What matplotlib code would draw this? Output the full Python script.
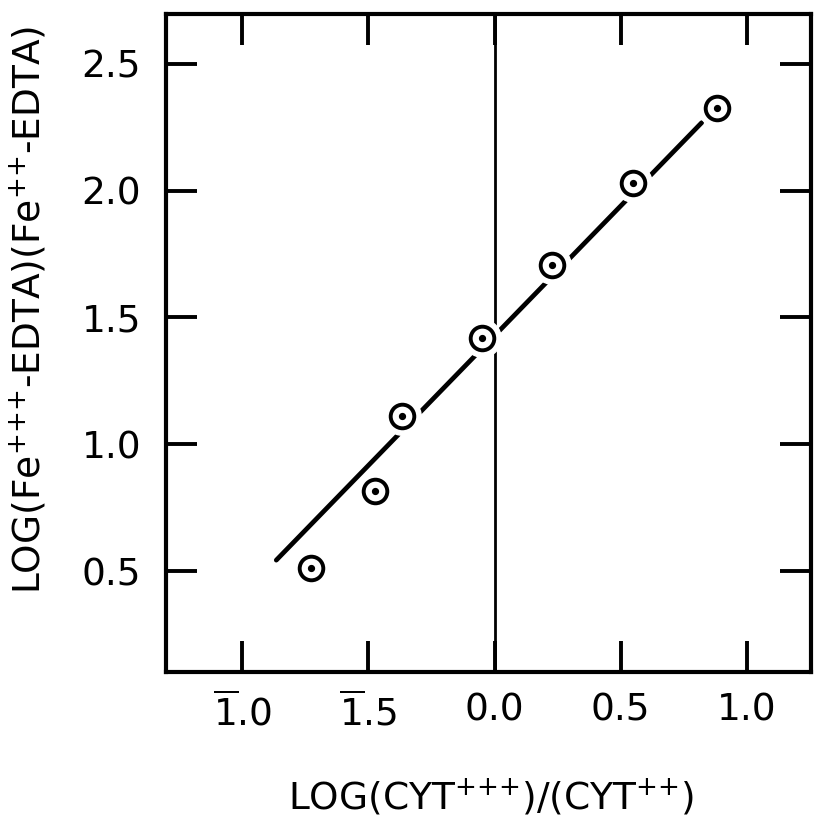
import matplotlib
matplotlib.use("Agg")
import matplotlib.pyplot as plt
import numpy as np

# log ratio of cytochrome forms vs log ratio of Fe-EDTA forms
log_cyt = [-0.726, -0.472, -0.365, -0.048, 0.226, 0.548, 0.881]
log_fe = [0.512, 0.815, 1.110, 1.417, 1.705, 2.031, 2.327]

# drawn straight line through the points
fit_x = [-0.865, 0.821]
fit_y = [0.543, 2.268]

x_ticks = [-1.0, -0.5, 0.0, 0.5, 1.0]
x_ticklabels = [r"$\overline{1}$.0", r"$\overline{1}$.5", "0.0", "0.5", "1.0"]
y_ticks = [0.5, 1.0, 1.5, 2.0, 2.5]
y_ticklabels = ["0.5", "1.0", "1.5", "2.0", "2.5"]

plt.rcParams['font.family'] = ['DejaVu Sans']

fig = plt.figure(figsize=(8.15, 8.17), dpi=100)
ax = fig.add_axes([0.2037, 0.1775, 0.7913, 0.8055])

ax.axvline(0.0, color='black', lw=2.0, zorder=1)
ax.plot(fit_x, fit_y, color='black', lw=3.4, solid_capstyle='round', zorder=2)

# white halo so the line breaks around each point
ax.plot(log_cyt, log_fe, 'o', ms=27, mfc='white', mec='white', zorder=3)
ax.plot(log_cyt, log_fe, 'o', ms=17, mfc='white', mec='black', mew=2.8, zorder=4)
ax.plot(log_cyt, log_fe, 'o', ms=4.2, mfc='black', mec='black', zorder=5)

ax.set_xlim(-1.302, 1.254)
ax.set_ylim(0.102, 2.697)

ax.set_xticks(x_ticks)
ax.set_xticklabels(x_ticklabels)
ax.set_yticks(y_ticks)
ax.set_yticklabels(y_ticklabels)

ax.tick_params(axis='both', direction='in', length=22, width=2.8,
               top=True, right=True, labelsize=27)
ax.tick_params(axis='x', pad=15)
ax.tick_params(axis='y', pad=18)

for s in ax.spines.values():
    s.set_linewidth(3.0)

ax.set_xlabel(r"LOG(CYT$^{{+}{+}{+}}$)/(CYT$^{{+}{+}}$)", fontsize=27)
ax.xaxis.set_label_coords(0.504, -0.158)
ax.set_ylabel(r"LOG(Fe$^{{+}{+}{+}}$-EDTA)(Fe$^{{+}{+}}$-EDTA)", fontsize=27)
ax.yaxis.set_label_coords(-0.183, 0.55)

plt.savefig('out.png', dpi=100)
